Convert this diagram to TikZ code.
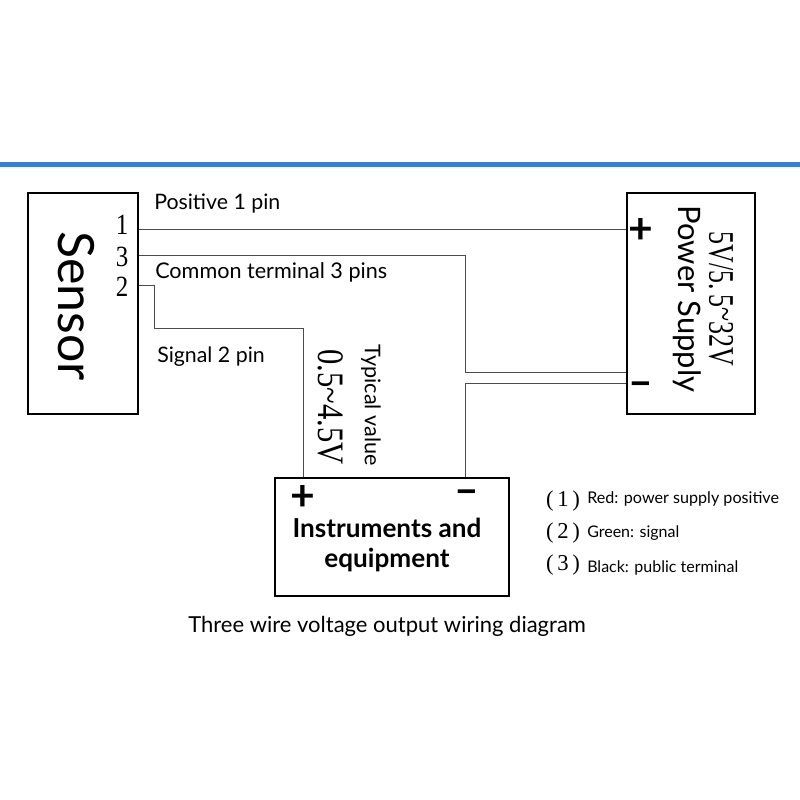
\documentclass[tikz,border=0pt]{standalone}
\usepackage{fontspec}
\setmainfont{Lato}
\usetikzlibrary{positioning}
\newfontfamily\pinfont{Liberation Serif}
\newcommand{\pinsize}[1]{\pinfont\fontsize{#1}{#1}\selectfont}
\newcommand{\labsize}[1]{\fontsize{#1}{#1}\selectfont}
\tikzset{
	box/.style={draw, line width=1.6pt, inner sep=0pt, anchor=north west},
	wire/.style={draw=black!70, line width=0.75pt},
	lab/.style={inner sep=0pt, anchor=base west},
	side/.style={inner sep=0pt, rotate=-90},
	pinnum/.style={inner sep=0pt},
}
\begin{document}
\begin{tikzpicture}[x=0.75pt, y=-0.75pt]

		\useasboundingbox (0,0) rectangle (800,800);
		\fill[color={rgb,255:red,58;green,124;blue,214}] (0,162) rectangle (800,167);

		\node[box, minimum width=82.5pt, minimum height=165.75pt] (sensor) at (27,192) {};
		\node[box, minimum width=96pt, minimum height=165.75pt] (power) at (626,192) {};
		\node[box, minimum width=175.5pt, minimum height=88.5pt] (instr) at (274,477) {};

		\node[side] (name) at (76,306) {\labsize{37.5}Sensor};
		\node[side] (pname) at (687,299) {\labsize{23.2}Power Supply};
		\node[side] (prange) at (721,299) {\scalebox{0.72}[1]{\pinsize{27}5V/5.\,5\raisebox{3pt}{\textasciitilde}32V}};
		\node[side] (typval) at (371,405) {\labsize{16.2}Typical value};
		\node[side] (range) at (331,407) {\scalebox{0.82}[1]{\pinsize{28}0.5\textasciitilde4.5V}};

		\node[pinnum] (pin1) at (122,225) {\scalebox{0.85}[1]{\pinsize{22}1}};
		\node[pinnum] (pin3) at (122,257) {\scalebox{0.85}[1]{\pinsize{22}3}};
		\node[pinnum] (pin2) at (122,287) {\scalebox{0.85}[1]{\pinsize{22}2}};

		\node[lab] (pos) at (154,209) {\labsize{16}Positive 1 pin};
		\node[lab] (com) at (155,278) {\labsize{16.2}Common terminal 3 pins};
		\node[lab] (sig) at (157,362) {\labsize{16}Signal 2 pin};

		\node[inner sep=0pt] (pplus) at (641,231) {\labsize{32}\textbf{+}};
		\node[inner sep=0pt] (pminus) at (641,389) {\labsize{32}\textbf{--}};
		\node[inner sep=0pt] (iplus) at (303,498) {\labsize{32}\textbf{+}};
		\node[inner sep=0pt] (iminus) at (467,497) {\labsize{32}\textbf{--}};

		\node[inner sep=0pt, align=center] (iname) at (387,545) {\labsize{19.6}\textbf{Instruments and}\\[7pt]\labsize{19.6}\textbf{equipment}};

		\node[pinnum] (n1) at (563,501) {\pinsize{17}(\,1\,)};
		\node[pinnum] (n2) at (563,533) {\pinsize{17}(\,2\,)};
		\node[pinnum] (n3) at (563,565) {\pinsize{17}(\,3\,)};
		\node[lab] (red) at (587,503) {\labsize{12.1}Red: power supply positive};
		\node[lab] (green) at (587,537) {\labsize{12}Green: signal};
		\node[lab] (black) at (587,572) {\labsize{12}Black: public terminal};

		\node[lab] (title) at (188,632) {\labsize{16.5}Three wire voltage output wiring diagram};

		\coordinate (s1) at (sensor.east |- 0,229);
		\coordinate (s3) at (sensor.east |- 0,255);
		\coordinate (s2) at (sensor.east |- 0,285);
		\coordinate (p1) at (power.west |- 0,229);
		\coordinate (p3) at (power.west |- 0,372);
		\coordinate (p4) at (power.west |- 0,383);
		\coordinate (i2) at (303,477);
		\coordinate (i3) at (465,477);

		\draw[wire] (s1) -- (p1);
		\draw[wire] (s3) -- (465,255) -- (465,372) -- (p3);
		\draw[wire] (s2) -- (154,285) -- (154,328) -- (303,328) -- (i2);
		\draw[wire] (p4) -- (465,383) -- (i3);
	\end{tikzpicture}
\end{document}
